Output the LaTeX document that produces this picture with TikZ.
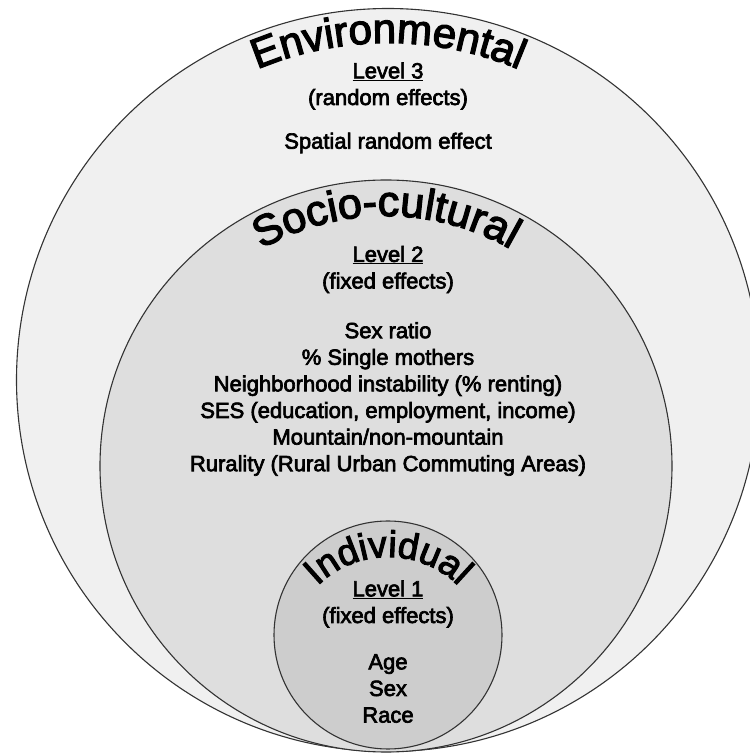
\documentclass[tikz,border=0pt]{standalone}
\usepackage{fontspec}
\setmainfont{Liberation Sans}[FakeBold=3]
\usetikzlibrary{decorations.text}
\definecolor{envfill}{HTML}{F0F0F0}
\definecolor{socfill}{HTML}{DEDEDE}
\definecolor{indfill}{HTML}{CDCDCD}
\definecolor{ringline}{HTML}{333333}
\newcommand{\lvlhead}[1]{\underline{#1}}

\begin{document}
\begin{tikzpicture}[x=1pt, y=1pt,
  ring/.style={draw=ringline, line width=1.1pt},
  body/.style={font=\fontsize{22}{26.6}\selectfont, align=center, inner sep=0pt},
  arctitle/.style 2 args={decorate, decoration={text along path, text align=center,
    text={|\fontsize{#2}{48}\selectfont|#1}}}]
  \clip (0,0) rectangle (750,756);
  \fill[white] (0,0) rectangle (750,756);
  \draw[ring, fill=envfill] (388,376) circle[radius=371.5];
  \draw[ring, fill=socfill] (386,290) circle[radius=286];
  \draw[ring, fill=indfill] (388,121) circle[radius=114];
  \path[arctitle={Environmental}{42}] (388,376) ++(125:337) arc[start angle=125, end angle=55, radius=337];
  \path[arctitle={Socio-cultural}{43}] (386,290) ++(130:250) arc[start angle=130, end angle=50, radius=250];
  \path[arctitle={Individual}{37}] (388,99) ++(160:100) arc[start angle=160, end angle=20, radius=100];
  \node[body] (envhead) at (388,670) {\lvlhead{Level 3}\\(random effects)};
  \node[body] (envlist) at (388,613) {Spatial random effect};
  \node[body] (sochead) at (388,486.5) {\lvlhead{Level 2}\\(fixed effects)};
  \node[body] (soclist) at (388,357) {Sex ratio\\\% Single mothers\\Neighborhood instability (\% renting)\\SES (education, employment, income)\\Mountain/non-mountain\\Rurality (Rural Urban Commuting Areas)};
  \node[body] (indhead) at (388,152) {\lvlhead{Level 1}\\(fixed effects)};
  \node[body] (indlist) at (388,67.5) {Age\\Sex\\Race};
\end{tikzpicture}
\end{document}
